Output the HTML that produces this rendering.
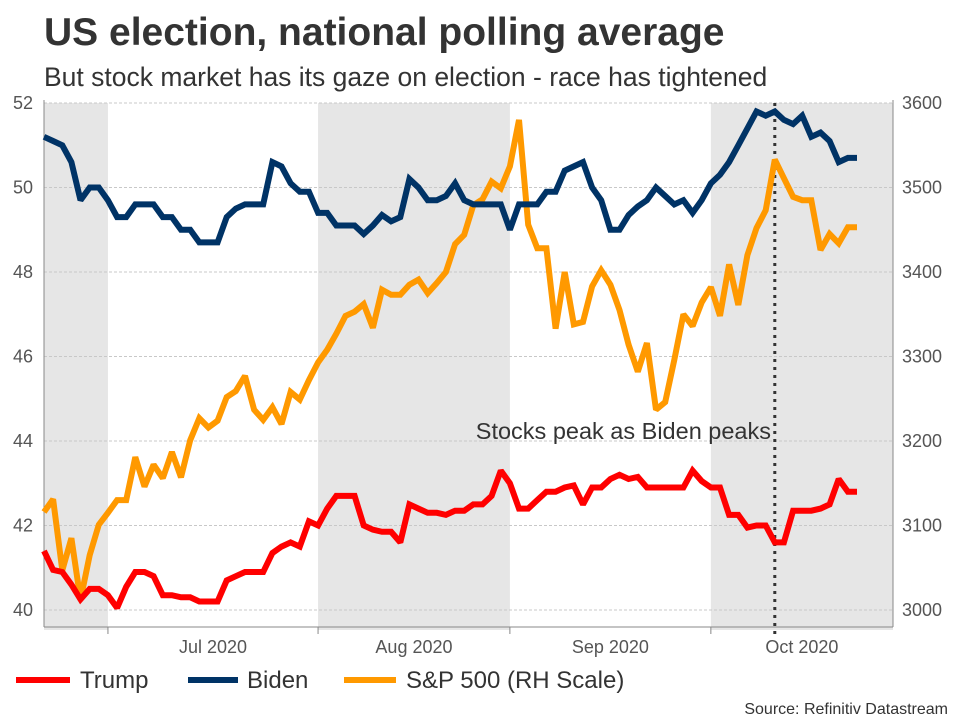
<!DOCTYPE html>
<html><head><meta charset="utf-8"><style>
body{margin:0;background:#fff;font-family:"Liberation Sans",Arial,sans-serif}
svg text{font-family:"Liberation Sans",Arial,sans-serif}
</style></head><body>
<svg id="chart" width="960" height="720" viewBox="0 0 960 720" xmlns="http://www.w3.org/2000/svg">
<text x="44" y="45" font-size="39" font-weight="bold" fill="#333">US election, national polling average</text>
<text x="44" y="86" font-size="26.5" fill="#333">But stock market has its gaze on election - race has tightened</text>
<g id="shade"></g><g id="grid"></g><g id="axes"></g><g id="lines"></g>
<text x="771" y="439" font-size="23.5" fill="#333" text-anchor="end">Stocks peak as Biden peaks</text>
<g font-size="24" fill="#333">
<line x1="16" y1="680" x2="70" y2="680" stroke="#ff0000" stroke-width="6"/>
<text x="80" y="688">Trump</text>
<line x1="188" y1="680" x2="238" y2="680" stroke="#003366" stroke-width="6"/>
<text x="247" y="688">Biden</text>
<line x1="344" y1="680" x2="396" y2="680" stroke="#ff9900" stroke-width="6"/>
<text x="406" y="688">S&amp;P 500 (RH Scale)</text>
</g>
<text x="948" y="714" font-size="16" fill="#333" text-anchor="end">Source: Refinitiv Datastream</text>
</svg>
<script>
const leftTicks=[40,42,44,46,48,50,52];
const rightTicks=[3000,3100,3200,3300,3400,3500,3600];
const monthLabels=["Jul 2020","Aug 2020","Sep 2020","Oct 2020"];
const monthStartIdx=[7,30,51,73];
const shadedRanges=[[0,7],[30,51],[73,93]];
const peakIdx=80;
const trump=[41.4,40.95,40.9,40.6,40.25,40.5,40.5,40.35,40.05,40.55,40.9,40.9,40.8,40.35,40.35,40.3,40.3,40.2,40.2,40.2,40.7,40.8,40.9,40.9,40.9,41.35,41.5,41.6,41.5,42.1,42.0,42.4,42.7,42.7,42.7,42.0,41.9,41.85,41.85,41.6,42.5,42.4,42.3,42.3,42.25,42.35,42.35,42.5,42.5,42.7,43.3,43.0,42.4,42.4,42.6,42.8,42.8,42.9,42.95,42.5,42.9,42.9,43.1,43.2,43.1,43.15,42.9,42.9,42.9,42.9,42.9,43.3,43.05,42.9,42.9,42.25,42.25,41.95,42.0,42.0,41.6,41.6,42.35,42.35,42.35,42.4,42.5,43.1,42.8,42.8];
const biden=[51.2,51.1,51.0,50.6,49.7,50.0,50.0,49.7,49.3,49.3,49.6,49.6,49.6,49.3,49.3,49.0,49.0,48.7,48.7,48.7,49.3,49.5,49.6,49.6,49.6,50.6,50.5,50.1,49.9,49.9,49.4,49.4,49.1,49.1,49.1,48.9,49.1,49.35,49.2,49.3,50.2,50.0,49.7,49.7,49.8,50.1,49.7,49.6,49.6,49.6,49.6,49.0,49.6,49.6,49.6,49.9,49.9,50.4,50.5,50.6,50.0,49.7,49.0,49.0,49.35,49.55,49.7,50.0,49.8,49.6,49.7,49.4,49.7,50.1,50.3,50.6,51.0,51.4,51.8,51.7,51.8,51.6,51.5,51.7,51.2,51.3,51.1,50.6,50.7,50.7];
const spx=[3116,3131,3047,3085,3012,3065,3101,3115,3130,3130,3181,3146,3172,3156,3187,3157,3201,3227,3216,3224,3252,3259,3277,3237,3225,3240,3220,3258,3249,3272,3293,3308,3327,3348,3353,3362,3334,3379,3373,3373,3385,3391,3375,3387,3400,3433,3444,3479,3486,3507,3499,3525,3580,3456,3428,3428,3333,3400,3338,3341,3383,3402,3385,3355,3314,3282,3316,3237,3246,3296,3350,3336,3364,3382,3348,3409,3361,3420,3452,3473,3533,3511,3489,3485,3485,3426,3445,3434,3453,3453];
const NS="http://www.w3.org/2000/svg";
const X0=44,X1=893,Y0=103,Y1=610,STEP=9.135;
const x=i=>X0+i*STEP;
const yL=v=>Y1-(v-40)/12*(Y1-Y0);
const yR=v=>Y1-(v-3000)/600*(Y1-Y0);
function mk(tag,attrs,parent,txt){const e=document.createElementNS(NS,tag);for(const k in attrs)e.setAttribute(k,attrs[k]);if(txt!==undefined)e.textContent=txt;document.getElementById(parent).appendChild(e);return e;}
shadedRanges.forEach(r=>{
 const e=mk('rect',{x:x(r[0]),y:Y0,width:Math.min(x(r[1]),X1)-x(r[0]),height:Y1-Y0+20,fill:'#e6e6e6'},'shade');
 
 
});
leftTicks.forEach(v=>{
 const g=mk('line',{x1:X0,x2:X1,y1:yL(v),y2:yL(v),stroke:'#c8c8c8','stroke-dasharray':'3,2','stroke-width':1},'grid');
 
 
 const t=mk('text',{x:33,y:yL(v)+6,'font-size':18,fill:'#555','text-anchor':'end'},'axes',String(v));
 
 
});
rightTicks.forEach(v=>{
 const t=mk('text',{x:902,y:yR(v)+6,'font-size':18,fill:'#555'},'axes',String(v));
 
 
});
let a=mk('line',{x1:X0,x2:X0,y1:Y0-3,y2:Y1+17,stroke:'#888','stroke-width':1},'axes');


a=mk('line',{x1:X1,x2:X1,y1:Y0-3,y2:Y1+17,stroke:'#888','stroke-width':1},'axes');


a=mk('line',{x1:X0,x2:X1,y1:Y1+17,y2:Y1+17,stroke:'#888','stroke-width':1},'axes');


monthStartIdx.forEach((m,i)=>{
 const tk=mk('line',{x1:x(m),x2:x(m),y1:Y1+17,y2:Y1+24,stroke:'#888'},'axes');
 
 
 const end=i+1<monthStartIdx.length?x(monthStartIdx[i+1]):x(m)+182;
 const t=mk('text',{x:(x(m)+end)/2,y:653,'font-size':18,fill:'#555','text-anchor':'middle'},'axes',monthLabels[i]);
 
 
});
const pk=mk('line',{x1:x(peakIdx),x2:x(peakIdx),y1:Y0,y2:Y1+24,stroke:'#333','stroke-width':3,'stroke-dasharray':'3,5'},'lines');


function line(arr,fy,color,name){
 const d=arr.map((v,i)=>(i?'L':'M')+x(i).toFixed(1)+','+fy(v).toFixed(1)).join(' ');
 const p=mk('path',{d:d,fill:'none',stroke:color,'stroke-width':6,'stroke-linejoin':'miter','stroke-miterlimit':2},'lines');
 
 
}
line(spx,yR,'#ff9900','sp500-line');
line(biden,yL,'#003366','biden-line');
line(trump,yL,'#ff0000','trump-line');
</script>
</body></html>
